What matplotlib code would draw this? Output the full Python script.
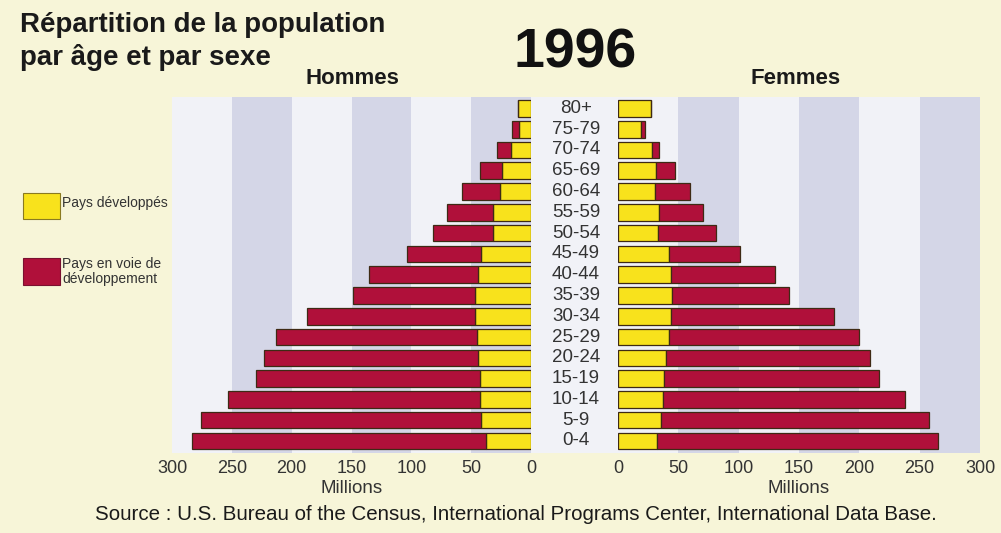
import matplotlib
matplotlib.use('Agg')
import matplotlib.pyplot as plt
from matplotlib import font_manager, transforms
from matplotlib.patches import Rectangle

# ---------------- data (millions) ----------------
age_groups = ['0-4', '5-9', '10-14', '15-19', '20-24', '25-29', '30-34', '35-39',
              '40-44', '45-49', '50-54', '55-59', '60-64', '65-69', '70-74', '75-79', '80+']
hommes_developpes = [38, 42, 43, 43, 44, 45, 47, 47, 44, 42, 31.5, 31.5, 26, 24, 17, 10, 11]
hommes_en_developpement = [245, 234, 210, 187, 179, 168, 140, 102, 91, 62, 50, 38.5, 32, 19, 11, 6, 0]
femmes_developpes = [32, 36, 37.5, 38, 40, 42, 44, 45, 44, 42, 33, 34, 31, 31.5, 28, 19, 27]
femmes_en_developpement = [233, 222, 200, 178, 169, 158, 135, 97, 86, 59, 48, 36.5, 29, 16, 6, 3.5, 0]
x_ticks = [0, 50, 100, 150, 200, 250, 300]

title_lines = ['Répartition de la population', 'par âge et par sexe']
year = '1996'
legend_labels = ['Pays développés', 'Pays en voie de\ndéveloppement']
source = 'Source : U.S. Bureau of the Census, International Programs Center, International Data Base.'

# ---------------- style ----------------
names = {f.name for f in font_manager.fontManager.ttflist}
BASE = 'Liberation Sans' if 'Liberation Sans' in names else 'DejaVu Sans'
NARROW = 'Liberation Sans Narrow' if 'Liberation Sans Narrow' in names else BASE
plt.rcParams['font.family'] = [BASE, 'DejaVu Sans']

BG = '#f7f5d8'
PANEL = '#f1f2f7'
BAND = '#d4d6e7'
YELLOW = '#f8e21c'
RED = '#b0103a'
EDGE = '#3e2a14'
TXT = '#1a1a1a'
TICK = '#333333'

W, H = 1001, 533
fig = plt.figure(figsize=(W / 100, H / 100), dpi=100)
fig.patch.set_facecolor(BG)


def fx(px):
    return px / W


def fy(py):
    return 1 - py / H


top, bottom = 97, 453
fig.add_artist(Rectangle((fx(172), fy(bottom)), fx(980) - fx(172), (bottom - top) / H,
                         transform=fig.transFigure, facecolor=PANEL, edgecolor='none', zorder=0))

axL = fig.add_axes([fx(172), fy(bottom), (531 - 172) / W, (bottom - top) / H])
axR = fig.add_axes([fx(618), fy(bottom), (980 - 618) / W, (bottom - top) / H])

ypos = list(range(len(age_groups)))
bar_h = 0.8

for ax, dev, pvd, gray_start in [(axL, hommes_developpes, hommes_en_developpement, 0),
                                  (axR, femmes_developpes, femmes_en_developpement, 1)]:
    ax.patch.set_visible(False)
    for i in range(gray_start, len(x_ticks) - 1, 2):
        ax.axvspan(x_ticks[i], x_ticks[i + 1], color=BAND, lw=0, zorder=0)
    ax.barh(ypos, dev, height=bar_h, color=YELLOW, edgecolor=EDGE, linewidth=0.9, zorder=2)
    ax.barh(ypos, pvd, left=dev, height=bar_h, color=RED, edgecolor=EDGE, linewidth=0.9, zorder=2)
    ax.set_ylim(-0.58, len(age_groups) - 0.45)
    ax.set_yticks([])
    ax.set_xticks(x_ticks)
    ax.set_xticklabels([str(t) for t in x_ticks])
    ax.tick_params(axis='x', length=0, pad=5, labelsize=13, labelcolor=TICK)
    for s in ax.spines.values():
        s.set_visible(False)
    ax.set_xlabel('Millions', fontsize=13.5, color=TICK, labelpad=2)

axL.set_xlim(300, 0)
axR.set_xlim(0, 300)

# age labels between the panels
trans = transforms.blended_transform_factory(fig.transFigure, axL.transData)
for i, lab in enumerate(age_groups):
    axL.text(fx(576), i, lab, transform=trans, ha='center', va='center',
             fontsize=13.5, color=TICK, clip_on=False)

# titles
fig.text(fx(20), fy(32), title_lines[0], fontsize=19.9, fontweight='bold', color=TXT, va='baseline')
fig.text(fx(20), fy(65), title_lines[1], fontsize=19.9, fontweight='bold', color=TXT, va='baseline')
fig.text(fx(575), fy(68), year, fontsize=40 if NARROW == BASE else 46, fontweight='bold', color='#111111',
         family=[NARROW, 'DejaVu Sans'], ha='center', va='baseline')
fig.text(fx(352), fy(84), 'Hommes', fontsize=16, fontweight='bold', color=TXT, ha='center', va='baseline')
fig.text(fx(796), fy(84), 'Femmes', fontsize=16, fontweight='bold', color=TXT, ha='center', va='baseline')

# legend
fig.add_artist(Rectangle((fx(23), fy(219)), (60 - 23) / W, (219 - 193) / H, transform=fig.transFigure,
                         facecolor=YELLOW, edgecolor='#8a7a20', lw=0.8))
fig.add_artist(Rectangle((fx(23), fy(285)), (60 - 23) / W, (285 - 258) / H, transform=fig.transFigure,
                         facecolor=RED, edgecolor='#7a1030', lw=0.8))
leg_fs = 11 if NARROW != BASE else 10
fig.text(fx(62), fy(207), legend_labels[0], fontsize=leg_fs, color=TICK, va='baseline',
         family=[NARROW, 'DejaVu Sans'])
l1, l2 = legend_labels[1].split('\n')
fig.text(fx(62), fy(268), l1, fontsize=leg_fs, color=TICK, va='baseline', family=[NARROW, 'DejaVu Sans'])
fig.text(fx(62), fy(283), l2, fontsize=leg_fs, color=TICK, va='baseline', family=[NARROW, 'DejaVu Sans'])

# source
fig.text(fx(516), fy(520), source, fontsize=14.8, color=TXT, ha='center', va='baseline')

fig.savefig('out.png', dpi=100, facecolor=BG)
